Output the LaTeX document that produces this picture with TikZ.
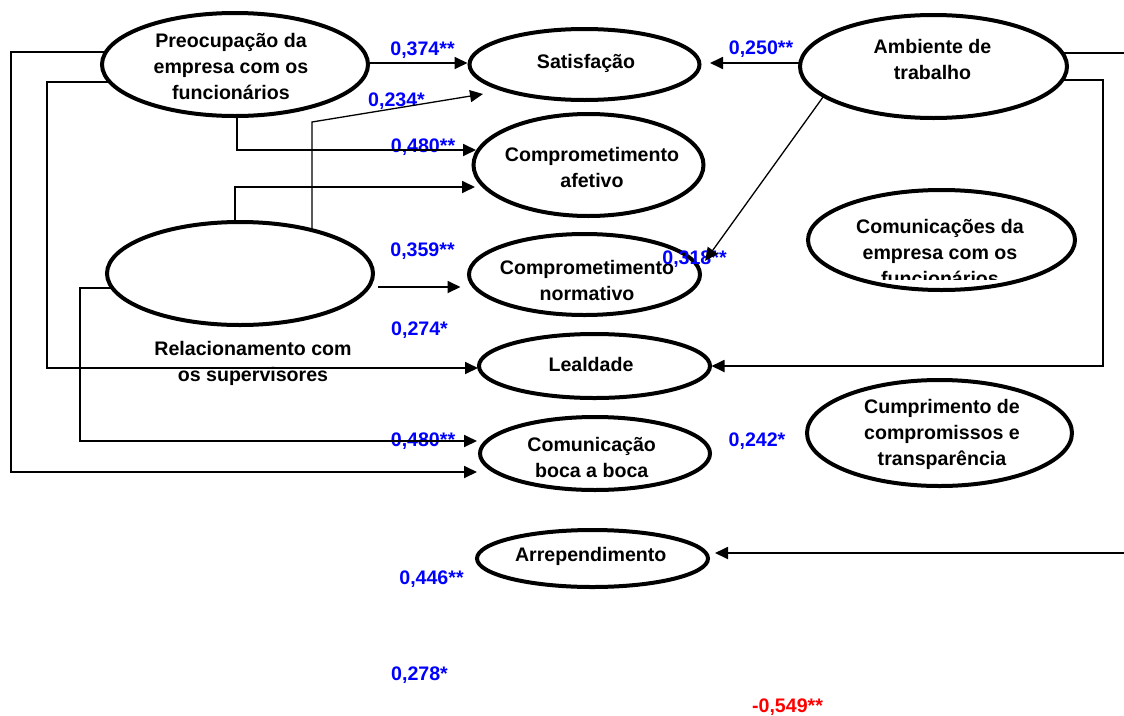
\documentclass[tikz,border=0pt]{standalone}
\usepackage{fontspec}
\setmainfont{Liberation Sans}
\usetikzlibrary{shapes.geometric,arrows.meta}
\definecolor{lblue}{RGB}{0,0,255}
\definecolor{lred}{RGB}{255,0,0}
\pgfdeclarelayer{bgl}
\pgfdeclarelayer{labl}
\pgfdeclarelayer{conl}
\pgfsetlayers{bgl,labl,conl,main}
\tikzset{
  lat/.style={ellipse, draw, line width=4pt, fill=white, inner sep=0pt, outer sep=0pt},
  ltxt/.style={font=\fontsize{19.6}{26}\selectfont\bfseries, align=center, inner sep=0pt},
  coef/.style={font=\fontsize{19.6}{24}\selectfont\bfseries, text=lblue, inner sep=0pt, anchor=base},
  conn/.style={line width=1.8pt},
  arrw/.style={conn, -{Triangle[length=13pt,width=12pt]}},
  thinarrw/.style={line width=1.3pt, -{Triangle[length=13pt,width=12pt]}},
}
\begin{document}
\begin{tikzpicture}[x=1pt,y=-1pt]
\useasboundingbox (0,0) rectangle (1124,715);
\begin{pgfonlayer}{bgl}
\fill[white] (0,0) rectangle (1124,715);
\end{pgfonlayer}

% latent variables
\node[lat, minimum width=266pt, minimum height=103pt] (pre) at (235,64.5) {};
\node[lat, minimum width=230pt, minimum height=71pt] (sat) at (584.5,64.5) {};
\node[lat, minimum width=230pt, minimum height=102pt] (afe) at (588.5,165) {};
\node[lat, minimum width=266pt, minimum height=103pt] (rel) at (240,273.5) {};
\node[lat, minimum width=231pt, minimum height=81pt] (norm) at (584.5,274.5) {};
\node[lat, minimum width=267pt, minimum height=103pt] (amb) at (933.5,66.5) {};
\node[lat, minimum width=267pt, minimum height=100pt] (comE) at (941.5,240) {};
\node[lat, minimum width=231pt, minimum height=64pt] (lea) at (594.5,366) {};
\node[lat, minimum width=230pt, minimum height=73pt] (com) at (595,453.5) {};
\node[lat, minimum width=231pt, minimum height=57pt] (arr) at (592.5,558.5) {};
\node[lat, minimum width=265pt, minimum height=106pt] (cum) at (939.5,433) {};

% texts
\node[ltxt] (preT) at (231,68) {\strut Preocupação da\\\strut empresa com os\\\strut funcionários};
\node[ltxt] (satT) at (586,63) {\strut Satisfação};
\node[ltxt] (afeT) at (592,169.5) {\strut Comprometimento\\\strut afetivo};
\node[ltxt] (relT) at (253,363) {\strut Relacionamento com\\\strut os supervisores};
\node[ltxt] (normT) at (587,282) {\strut Comprometimento\\\strut normativo};
\node[ltxt] (ambT) at (932.5,61) {\strut Ambiente de\\\strut trabalho};
\begin{scope}
\clip (800,150) rectangle (1085,279.5);
\node[ltxt] (comET) at (940,254) {\strut Comunicações da\\\strut empresa com os\\\strut funcionários};
\end{scope}
\node[ltxt] (leaT) at (591,366) {\strut Lealdade};
\node[ltxt] (comT) at (591.7,459) {\strut Comunicação\\\strut boca a boca};
\node[ltxt] (arrT) at (590.7,556) {\strut Arrependimento};
\node[ltxt] (cumT) at (942,434.5) {\strut Cumprimento de\\\strut compromissos e\\\strut transparência};

% coefficient labels (below connectors)
\begin{pgfonlayer}{labl}
\node[coef] (c1) at (422.5,55) {0,374**};
\node[coef] (c2) at (396.5,106) {0,234*};
\node[coef] (c3) at (423,152) {0,480**};
\node[coef] (c4) at (422.5,256) {0,359**};
\node[coef] (c5) at (419.5,335) {0,274*};
\node[coef] (c6) at (423,446) {0,480**};
\node[coef] (c7) at (431.5,584) {0,446**};
\node[coef] (c8) at (419.5,680) {0,278*};
\node[coef] (c9) at (761,54) {0,250**};
\node[coef] (c11) at (757,446) {0,242*};
\node[coef, text=lred] (c12) at (787.5,712) {-0,549**};
\end{pgfonlayer}

% connectors
\begin{pgfonlayer}{conl}
\coordinate (k1) at (11,472);
\coordinate (k2) at (47,368);
\coordinate (k3) at (312,122);
\coordinate (k4) at (80,441);
\coordinate (k5) at (1103,366);
\coordinate (r1) at (1124,53);
\coordinate (r2) at (1124,553);
\draw[arrw] ([yshift=12.5pt]pre.center) -| (k1) -- ([xshift=-3pt,yshift=-18.5pt]com.west);
\draw[arrw] ([yshift=-17.5pt]pre.center) -| (k2) -- ([xshift=-1pt,yshift=-2pt]lea.west);
\draw[arrw] ([yshift=1.5pt]pre.east) -- ([xshift=-2pt,yshift=1.5pt]sat.west);
\draw[arrw] ([xshift=2pt]pre.center) |- ([xshift=2.5pt,yshift=15pt]afe.west);
\draw[arrw] ([xshift=-5pt]rel.center) |- ([xshift=1.5pt,yshift=-22pt]afe.west);
\draw[thinarrw] ([xshift=72pt]rel.center) -- (k3) -- ([xshift=13.5pt,yshift=-29.5pt]sat.west);
\draw[arrw] ([xshift=5pt,yshift=-13.5pt]rel.east) -- ([xshift=-8.5pt,yshift=-12.5pt]norm.west);
\draw[arrw] ([yshift=-14.5pt]rel.center) -| (k4) -- ([xshift=-3pt,yshift=12.5pt]com.west);
\draw[arrw] ([yshift=3.5pt]amb.west) -- ([xshift=10.5pt,yshift=1.5pt]sat.east);
\draw[arrw] ([yshift=-13.5pt]amb.center) -| (k5) -- ([xshift=1.5pt]lea.east);
\draw[conn] ([yshift=13.5pt]amb.center) -- (r1);
\draw[arrw] (r2) -- ([xshift=7pt,yshift=5.5pt]arr.east);
\end{pgfonlayer}

% label and path drawn over the normativo ellipse
\node[coef] (c10) at (694.5,264) {0,318**};
\draw[thinarrw] (amb.195) -- ([xshift=10pt,yshift=2pt]norm.6);
\end{tikzpicture}
\end{document}
